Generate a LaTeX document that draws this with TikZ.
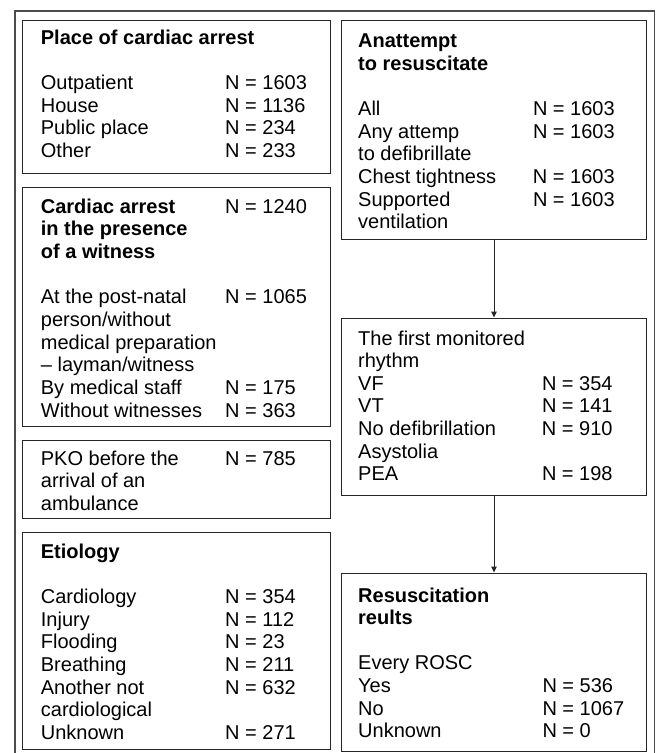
\documentclass[tikz,border=0pt]{standalone}
\usepackage{fontspec}
\setmainfont{Liberation Sans}
\usetikzlibrary{fit,arrows.meta}
\newlength\cwid
\newcommand\lv[2]{\makebox[\cwid][l]{#1}#2}
\tikzset{
  box/.style={draw=black!85, line width=1pt, rectangle, inner sep=0pt, fill=none},
  frame/.style={draw=black!70, line width=1.3pt},
  txt/.style={inner sep=0pt, anchor=base west, font=\fontsize{20pt}{22.65pt}\selectfont, text=black},
  arrow/.style={draw=black!85, line width=1pt, -{Triangle[length=6pt,width=5.5pt]}}
}
\begin{document}
\begin{tikzpicture}[x=1pt,y=-1pt]
\useasboundingbox (0,0) rectangle (659,753);
% outer frame (open at the bottom)
\draw[frame] (15,753) -- (15,11) -- (654.5,11) -- (654.5,753);

% left column boxes
\node[box, fit={(22.5,20.3) (330,173)}] (b1) {};
\node[box, fit={(22.5,187) (330,426)}] (b2) {};
\node[box, fit={(22.5,440) (330,518)}] (b3) {};
\node[box, fit={(22.5,532) (330,749)}] (b4) {};
% right column boxes
\node[box, fit={(341.5,20.3) (646.5,239)}] (b5) {};
\node[box, fit={(341.5,318) (646.5,495)}] (b6) {};
\node[box, fit={(341.5,573) (646.5,751)}] (b7) {};

% texts
\node[txt] (t1) at (40.7,44.3) {\setlength\cwid{184.3pt}\begin{tabular}[t]{@{}l@{}}
\textbf{Place of cardiac arrest}\\
\\
\lv{Outpatient}{N = 1603}\\
\lv{House}{N = 1136}\\
\lv{Public place}{N = 234}\\
\lv{Other}{N = 233}
\end{tabular}};

\node[txt] (t2) at (40.7,213.3) {\setlength\cwid{184.3pt}\begin{tabular}[t]{@{}l@{}}
\lv{\textbf{Cardiac arrest}}{N = 1240}\\
\textbf{in the presence}\\
\textbf{of a witness}\\
\\
\lv{At the post-natal}{N = 1065}\\
person/without\\
medical preparation\\
– layman/witness\\
\lv{By medical staff}{N = 175}\\
\lv{Without witnesses}{N = 363}
\end{tabular}};

\node[txt] (t3) at (40.7,465) {\setlength\cwid{184.3pt}\begin{tabular}[t]{@{}l@{}}
\lv{PKO before the}{N = 785}\\
arrival of an\\
ambulance
\end{tabular}};

\node[txt] (t4) at (40.7,558.3) {\setlength\cwid{184.3pt}\begin{tabular}[t]{@{}l@{}}
\textbf{Etiology}\\
\\
\lv{Cardiology}{N = 354}\\
\lv{Injury}{N = 112}\\
\lv{Flooding}{N = 23}\\
\lv{Breathing}{N = 211}\\
\lv{Another not}{N = 632}\\
cardiological\\
\lv{Unknown}{N = 271}
\end{tabular}};

\node[txt] (t5) at (358,47.5) {\setlength\cwid{174.8pt}\begin{tabular}[t]{@{}l@{}}
\textbf{Anattempt}\\
\textbf{to resuscitate}\\
\\
\lv{All}{N = 1603}\\
\lv{Any attemp}{N = 1603}\\
to defibrillate\\
\lv{Chest tightness}{N = 1603}\\
\lv{Supported}{N = 1603}\\
ventilation
\end{tabular}};

\node[txt] (t6) at (358,345) {\setlength\cwid{183.8pt}\begin{tabular}[t]{@{}l@{}}
The first monitored\\
rhythm\\
\lv{VF}{N = 354}\\
\lv{VT}{N = 141}\\
\lv{No defibrillation}{N = 910}\\
Asystolia\\
\lv{PEA}{N = 198}
\end{tabular}};

\node[txt] (t7) at (358,602) {\setlength\cwid{184.3pt}\begin{tabular}[t]{@{}l@{}}
\textbf{Resuscitation}\\
\textbf{reults}\\
\\
\lv{Every ROSC}{}\\
\lv{Yes}{N = 536}\\
\lv{No}{N = 1067}\\
\lv{Unknown}{N = 0}
\end{tabular}};

% connectors
\draw[arrow] (b5.south) -- (b6.north);
\draw[arrow] (b6.south) -- (b7.north);
\end{tikzpicture}
\end{document}
